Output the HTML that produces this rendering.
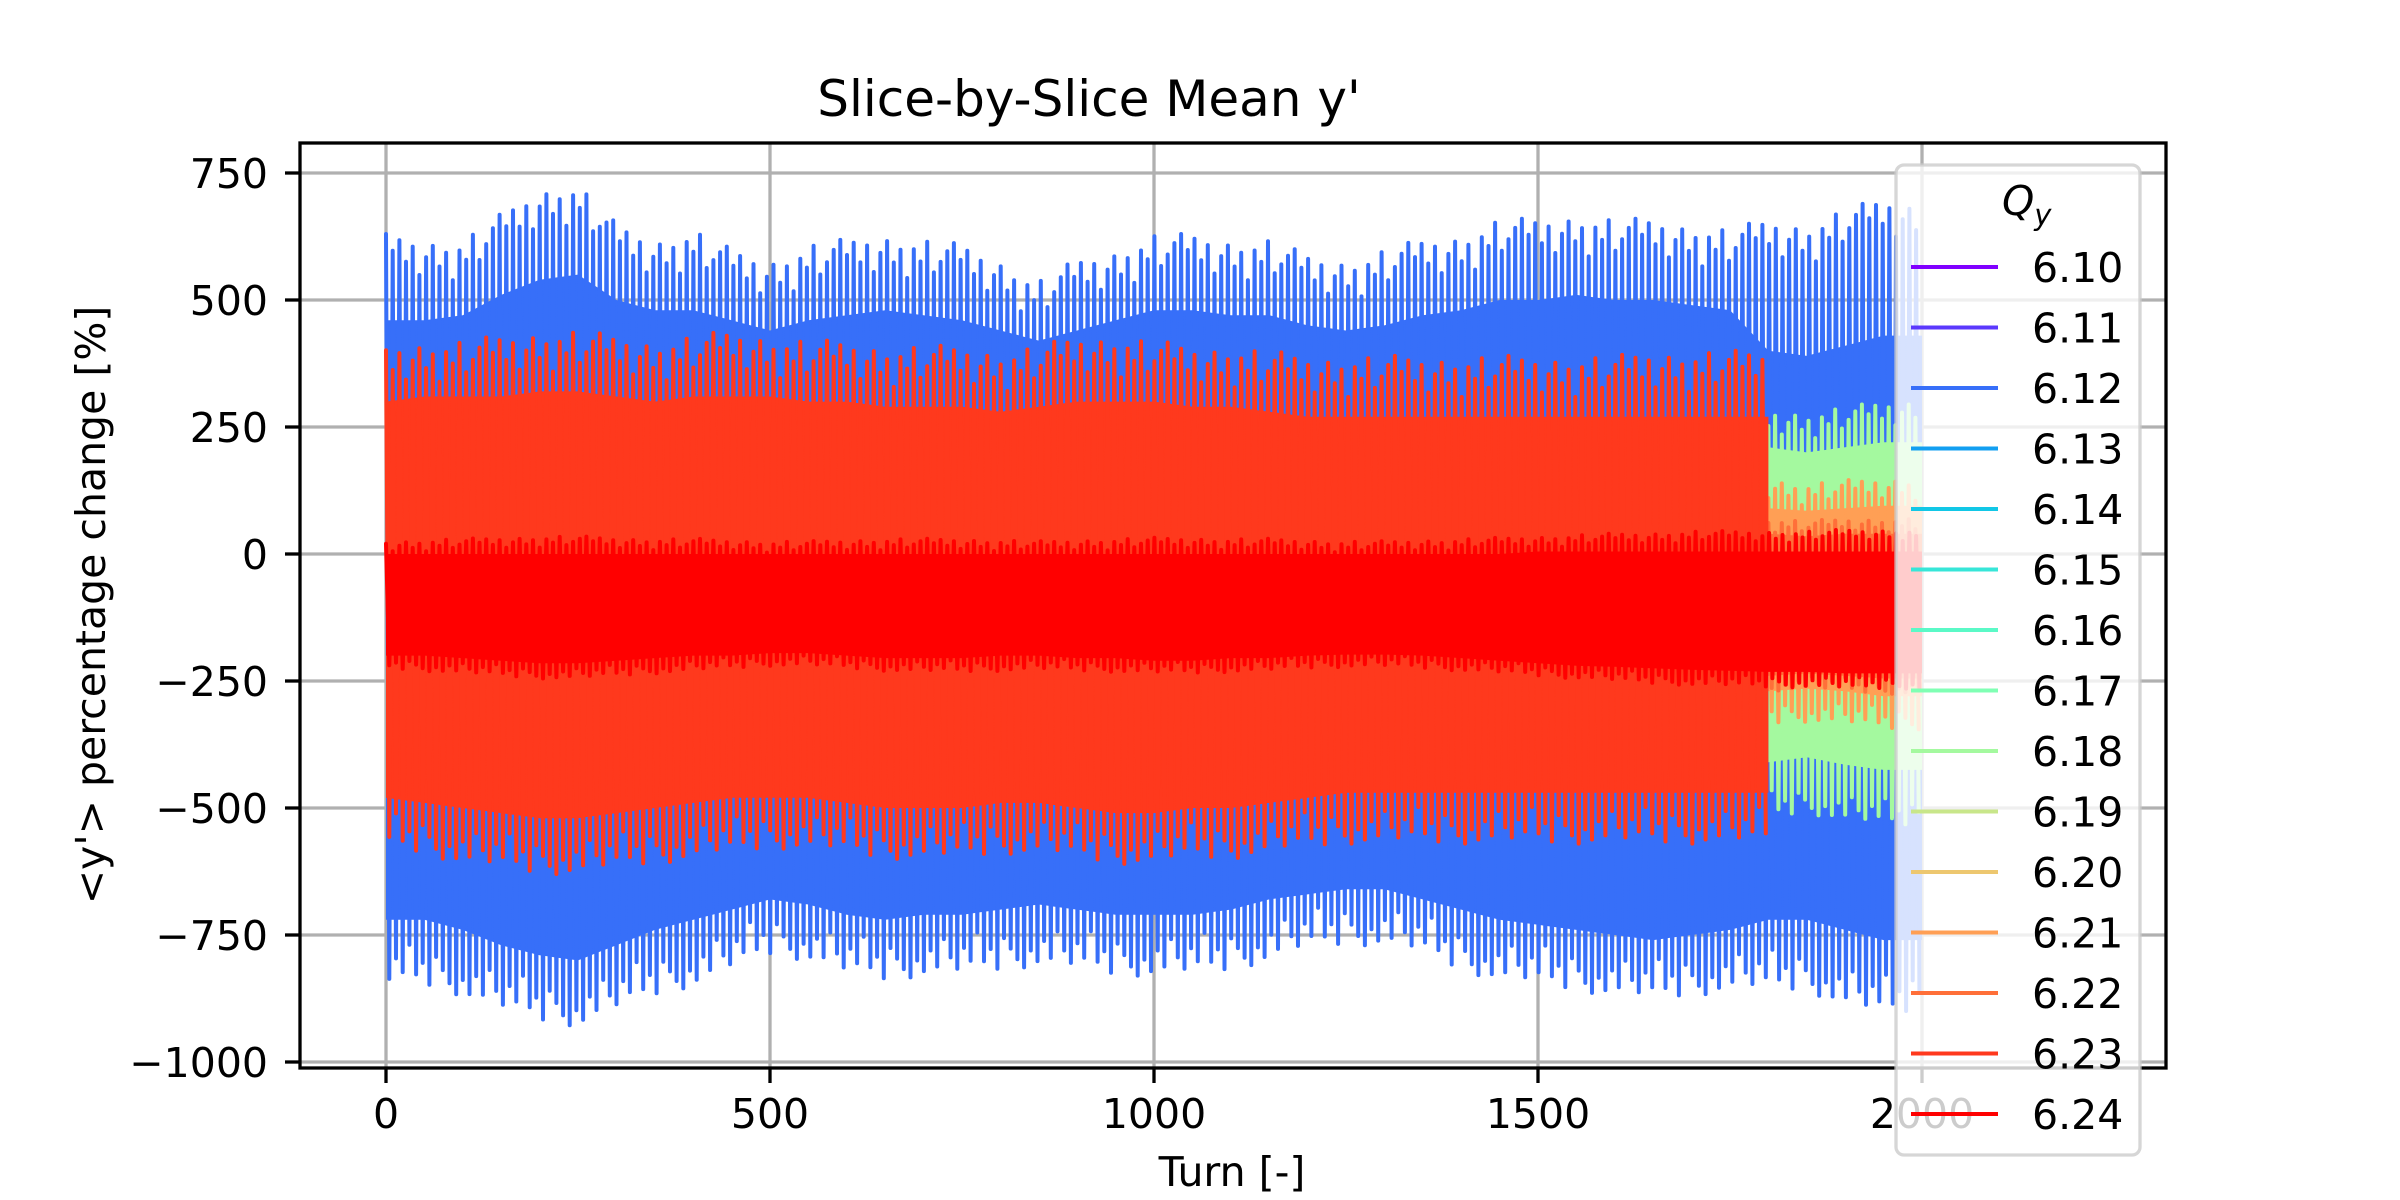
<!DOCTYPE html>
<html><head><meta charset="utf-8">
<style>
html,body{margin:0;padding:0;background:#fff;}
svg{display:block;font-family:"DejaVu Sans","Liberation Sans",sans-serif;}
</style></head>
<body>
<svg id="chart" width="2400" height="1200" viewBox="0 0 2400 1200">
<rect x="0" y="0" width="2400" height="1200" fill="#fff"/>
<g id="grid"></g>
<g id="plot"></g>
<rect x="300" y="143" width="1866" height="925" fill="none" stroke="#000" stroke-width="3.3"/>
<g id="ticks"></g>
<text x="1089" y="116" font-size="50" text-anchor="middle">Slice-by-Slice Mean y'</text>
<text x="1232" y="1186" font-size="41" text-anchor="middle">Turn [-]</text>
<text x="105" y="605" font-size="41" text-anchor="middle" transform="rotate(-90 105 605)">&lt;y'&gt; percentage change [%]</text>
<g id="legend"></g>
</svg>
<script>
const xTicks=[0,500,1000,1500,2000];
const xTickLabels=["0","500","1000","1500","2000"];
const yTicks=[750,500,250,0,-250,-500,-750,-1000];
const yTickLabels=["750","500","250","0","\u2212250","\u2212500","\u2212750","\u22121000"];
const qLabels=["6.10","6.11","6.12","6.13","6.14","6.15","6.16","6.17","6.18","6.19","6.20","6.21","6.22","6.23","6.24"];
const qColors=["#8000ff","#5b39fd","#376ff9","#129ff1","#12c7e6","#37e6d8","#5bf9c7","#80ffb4","#a4f99f","#c8e68a","#edc76f","#ff9f55","#ff6f39","#ff391d","#ff0000"];
const gridTurns=[0,50,100,150,200,250,300,350,400,450,500,550,600,650,700,750,800,850,900,950,1000,1050,1100,1150,1200,1250,1300,1350,1400,1450,1500,1550,1600,1650,1700,1750,1800,1850,1900,1950,2000];
const blueTop=[630,620,620,670,720,730,650,620,640,600,580,610,620,630,620,610,580,540,580,600,630,630,620,620,590,580,600,620,630,660,660,670,660,660,650,640,660,650,680,700,690];
const blueBot=[-850,-850,-870,-900,-920,-930,-900,-870,-850,-820,-790,-800,-830,-840,-830,-830,-820,-810,-820,-830,-830,-830,-820,-800,-780,-770,-770,-790,-820,-840,-850,-860,-870,-880,-870,-860,-860,-860,-890,-910,-900];
const blueCoreTop=[460,460,470,510,540,550,500,480,480,460,440,460,470,480,470,460,440,420,440,460,480,480,470,470,450,440,450,470,480,500,500,510,500,500,490,480,400,390,410,430,430];
const blueCoreBot=[-720,-720,-740,-770,-790,-800,-770,-740,-720,-700,-680,-690,-710,-720,-710,-710,-700,-690,-700,-710,-710,-710,-700,-680,-670,-660,-660,-680,-700,-720,-730,-740,-750,-760,-750,-740,-720,-720,-740,-760,-760];
const redOTop=[410,420,420,430,440,440,430,420,430,440,430,420,420,410,410,410,400,410,430,430,420,410,410,400,390,390,390,390,390,390,390,390,390,400,400,400,400];
const redOBot=[-580,-590,-610,-620,-630,-630,-620,-610,-600,-590,-580,-580,-590,-600,-600,-600,-590,-590,-600,-610,-610,-600,-600,-590,-580,-570,-570,-570,-570,-570,-570,-570,-570,-570,-570,-570,-570];
const redOCoreTop=[300,310,310,310,320,320,310,300,310,310,310,300,300,290,290,290,280,290,300,300,300,290,290,280,270,270,270,270,270,270,270,270,270,270,270,270,270];
const redOCoreBot=[-480,-490,-500,-510,-520,-520,-510,-500,-490,-480,-480,-480,-490,-500,-500,-500,-490,-490,-500,-510,-510,-500,-500,-490,-480,-470,-470,-470,-470,-470,-470,-470,-470,-470,-470,-470,-470];
const redTop=[25,28,30,32,35,35,32,30,30,28,25,25,28,30,30,30,28,25,28,30,32,32,30,30,28,25,25,28,30,32,35,38,40,42,45,45,45,45,48,48,48];
const redBot=[-225,-230,-235,-240,-245,-245,-240,-235,-230,-225,-220,-220,-225,-230,-232,-232,-230,-228,-230,-232,-235,-235,-232,-230,-225,-222,-222,-225,-230,-235,-240,-245,-250,-255,-258,-260,-262,-262,-265,-265,-265];
const redCoreTop=[0,0,0,0,0,0,0,0,0,0,0,0,0,0,0,0,0,0,0,0,0,0,0,0,0,0,0,0,0,0,5,5,5,5,5,5,5,5,5,5,5];
const redCoreBot=[-200,-200,-205,-210,-215,-215,-210,-205,-200,-200,-195,-195,-200,-205,-205,-205,-200,-200,-205,-205,-210,-210,-205,-205,-200,-198,-198,-200,-205,-210,-215,-220,-222,-225,-228,-230,-232,-232,-235,-235,-235];
const greenTurns=[1800,1850,1900,1950,2000];
const greenTop=[285,280,290,300,305];
const greenBot=[-520,-510,-525,-535,-535];
const greenCoreTop=[210,200,210,220,220];
const greenCoreBot=[-410,-400,-415,-425,-425];
const orange21Top=[150,140,145,150,150];
const orange21Bot=[-335,-330,-335,-345,-345];
const orange21CoreTop=[90,85,90,95,95];
const orange21CoreBot=[-270,-265,-270,-280,-280];
const orange22Top=[70,65,70,70,70];
const orange22Bot=[-270,-265,-270,-275,-275];
const orange22CoreTop=[40,35,40,40,40];
const orange22CoreBot=[-240,-235,-240,-245,-245];
const jitter=[0,0.35,0.1,0.55,0.2,0.8,0.4,0.15,0.6,0.3,0.9,0.25,0.5,0.05,0.7,0.45,0.2];
const period=8.7;

const NS="http://www.w3.org/2000/svg";
function xs(t){return 386+t*0.768;}
function ys(v){return 554-v*0.508;}
function interp(tg,arr,t){
  if(t<=tg[0])return arr[0];
  for(let i=1;i<tg.length;i++){ if(t<=tg[i]){const f=(t-tg[i-1])/(tg[i]-tg[i-1]);return arr[i-1]+f*(arr[i]-arr[i-1]);} }
  return arr[arr.length-1];
}
const grid=document.getElementById('grid');
const plot=document.getElementById('plot');
const ticks=document.getElementById('ticks');
const legend=document.getElementById('legend');

xTicks.forEach((t,i)=>{
  const l=document.createElementNS(NS,'line');
  l.setAttribute('x1',xs(t));l.setAttribute('x2',xs(t));l.setAttribute('y1',143);l.setAttribute('y2',1068);
  l.setAttribute('stroke','#b0b0b0');l.setAttribute('stroke-width',3.3);
  
  
  grid.appendChild(l);
  const tk=document.createElementNS(NS,'line');
  tk.setAttribute('x1',xs(t));tk.setAttribute('x2',xs(t));tk.setAttribute('y1',1068);tk.setAttribute('y2',1083);
  tk.setAttribute('stroke','#000');tk.setAttribute('stroke-width',3.3);
  
  
  ticks.appendChild(tk);
  const tx=document.createElementNS(NS,'text');
  tx.setAttribute('x',xs(t));tx.setAttribute('y',1128);tx.setAttribute('font-size',41);tx.setAttribute('text-anchor','middle');
  tx.textContent=xTickLabels[i];
  
  
  ticks.appendChild(tx);
});
yTicks.forEach((v,i)=>{
  const l=document.createElementNS(NS,'line');
  l.setAttribute('x1',300);l.setAttribute('x2',2166);l.setAttribute('y1',ys(v));l.setAttribute('y2',ys(v));
  l.setAttribute('stroke','#b0b0b0');l.setAttribute('stroke-width',3.3);
  
  
  grid.appendChild(l);
  const tk=document.createElementNS(NS,'line');
  tk.setAttribute('x1',285);tk.setAttribute('x2',300);tk.setAttribute('y1',ys(v));tk.setAttribute('y2',ys(v));
  tk.setAttribute('stroke','#000');tk.setAttribute('stroke-width',3.3);
  
  
  ticks.appendChild(tk);
  const tx=document.createElementNS(NS,'text');
  tx.setAttribute('x',268);tx.setAttribute('y',ys(v)+15);tx.setAttribute('font-size',41);tx.setAttribute('text-anchor','end');
  tx.textContent=yTickLabels[i];
  
  
  ticks.appendChild(tx);
});

function series(name,color,tg,topArr,botArr,coreTop,coreBot,t0,t1,spreadTop,spreadBot,off,w){
  const g=document.createElementNS(NS,'g');
  
  
  plot.appendChild(g);
  const band=[];
  for(let t=t0;t<=t1+0.01;t+=10){band.push(xs(Math.min(t,t1)).toFixed(1)+','+ys(interp(tg,coreTop,Math.min(t,t1))).toFixed(1));}
  for(let t=t1;t>=t0-0.01;t-=10){band.push(xs(Math.max(t,t0)).toFixed(1)+','+ys(interp(tg,coreBot,Math.max(t,t0))).toFixed(1));}
  const bp=document.createElementNS(NS,'polygon');
  bp.setAttribute('points',band.join(' '));
  bp.setAttribute('fill',color);
  
  
  g.appendChild(bp);
  const pts=[];
  let k=0;
  for(let t=t0;t<=t1;t+=period,k++){
    const jt=jitter[(k+off)%jitter.length], jb=jitter[(k+off+7)%jitter.length];
    const top=interp(tg,topArr,t)-jt*spreadTop;
    const tb=Math.min(t+period/2,t1);
    const bot=interp(tg,botArr,tb)+jb*spreadBot;
    pts.push(xs(t).toFixed(1)+','+ys(top).toFixed(1));
    pts.push(xs(tb).toFixed(1)+','+ys(bot).toFixed(1));
  }
  const p=document.createElementNS(NS,'polyline');
  p.setAttribute('points',pts.join(' '));
  p.setAttribute('fill','none');p.setAttribute('stroke',color);p.setAttribute('stroke-width',w);
  p.setAttribute('stroke-linejoin','round');p.setAttribute('stroke-linecap','round');
  
  
  g.appendChild(p);
}
series('series-6.12',qColors[2],gridTurns,blueTop,blueBot,blueCoreTop,blueCoreBot,0,2000,90,90,0,4);
series('series-6.18',qColors[8],greenTurns,greenTop,greenBot,greenCoreTop,greenCoreBot,1800,2000,60,60,3,4);
series('series-6.21',qColors[11],greenTurns,orange21Top,orange21Bot,orange21CoreTop,orange21CoreBot,1800,2000,50,50,5,4);
series('series-6.22',qColors[12],greenTurns,orange22Top,orange22Bot,orange22CoreTop,orange22CoreBot,1800,2000,30,30,9,4);
series('series-6.23',qColors[13],gridTurns.slice(0,37),redOTop,redOBot,redOCoreTop,redOCoreBot,0,1800,90,80,2,4);
series('series-6.24',qColors[14],gridTurns,redTop,redBot,redCoreTop,redCoreBot,0,2000,25,25,4,4);

const lb=document.createElementNS(NS,'rect');
lb.setAttribute('x',1896);lb.setAttribute('y',165);lb.setAttribute('width',244);lb.setAttribute('height',990);lb.setAttribute('rx',8);
lb.setAttribute('fill','rgba(255,255,255,0.8)');lb.setAttribute('stroke','rgba(204,204,204,0.8)');lb.setAttribute('stroke-width',3.3);


legend.appendChild(lb);
const lt=document.createElementNS(NS,'text');
lt.setAttribute('x',2002);lt.setAttribute('y',215);lt.setAttribute('font-size',41);lt.setAttribute('font-style','italic');
lt.innerHTML='Q<tspan font-size="29" dy="10">y</tspan>';


legend.appendChild(lt);
qLabels.forEach((q,i)=>{
  const y=267+i*60.5;
  const l=document.createElementNS(NS,'line');
  l.setAttribute('x1',1911);l.setAttribute('x2',1998);l.setAttribute('y1',y);l.setAttribute('y2',y);
  l.setAttribute('stroke',qColors[i]);l.setAttribute('stroke-width',4);
  
  
  legend.appendChild(l);
  const t=document.createElementNS(NS,'text');
  t.setAttribute('x',2032);t.setAttribute('y',y+15);t.setAttribute('font-size',41);
  t.textContent=q;
  
  
  legend.appendChild(t);
});
</script>
</body></html>
